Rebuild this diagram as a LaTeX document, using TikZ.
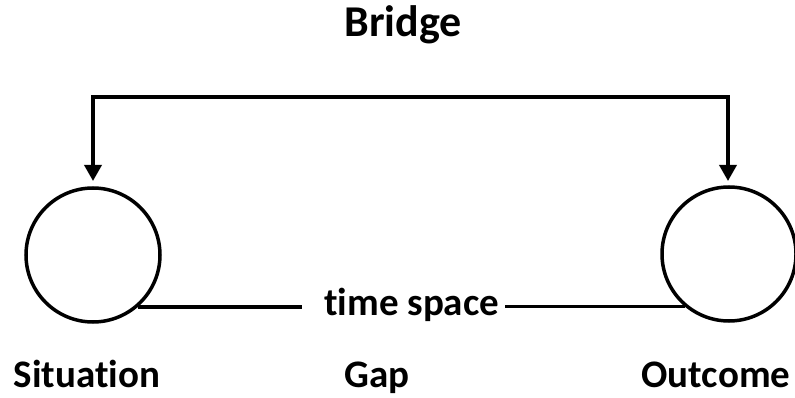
\documentclass[tikz,border=0pt]{standalone}
\usepackage{fontspec}
\setmainfont[Ligatures=NoCommon]{Carlito}
\usetikzlibrary{arrows.meta}
\begin{document}
\begin{tikzpicture}[x=1pt,y=-1pt,
  lbl/.style={font=\fontsize{39}{44}\selectfont\bfseries, inner sep=0pt},
  ring/.style={draw, line width=3.5pt, circle, minimum size=134pt, inner sep=0pt},
  conn/.style={line width=3.5pt},
  arr/.style={line width=3.5pt, -{Triangle[width=17pt,length=16pt]}}]
\useasboundingbox (0,0) rectangle (795,398);
\node[lbl, font=\fontsize{44}{48}\selectfont\bfseries, anchor=base] (title) at (403,37) {Bridge};
\node[ring] (sit) at (93,255) {};
\node[ring] (out) at (729,254) {};
\coordinate (la) at (93,97);
\coordinate (ra) at (728,97);
\coordinate (lt) at (93,181);
\coordinate (rt) at (728,181);
\draw[arr] (la) -- (lt);
\draw[arr] (ra) -- (rt);
\draw[conn] ([xshift=-1.75pt]la) -- ([xshift=1.75pt]ra);
\node[lbl, anchor=base west] (ts) at (324,315) {time space};
\draw[conn] (sit.-49.6) -- ([xshift=-22pt]ts.west |- sit.-49.6);
\draw[conn] ([xshift=6pt]ts.east |- out.-130.4) -- (out.-130.4);
\node[lbl, anchor=base] (s) at (87,387) {Situation};
\node[lbl, anchor=base] (g) at (377,387) {Gap};
\node[lbl, anchor=base] (o) at (716,387) {Outcome};
\end{tikzpicture}
\end{document}
